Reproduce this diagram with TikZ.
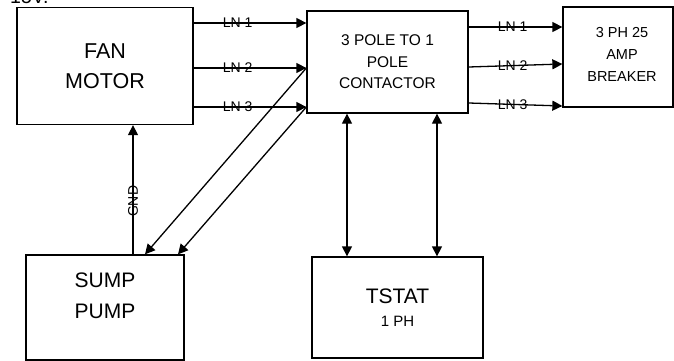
\documentclass[tikz,border=0pt]{standalone}
\usepackage{fontspec}
\setmainfont{Liberation Sans}
\usetikzlibrary{arrows.meta,calc,positioning}

\tikzset{
  unit/.style={draw, line width=1.3pt, align=center, inner sep=0pt},
  wire/.style={line width=1.3pt, -{Triangle[length=10pt,width=10pt]}},
  dwire/.style={line width=1.3pt, {Triangle[length=10pt,width=10pt]}-{Triangle[length=10pt,width=10pt]}},
  lnlabel/.style={font=\fontsize{14}{16}\selectfont, inner sep=0pt},
}

\begin{document}
\begin{tikzpicture}[x=1pt, y=-1pt]
  \useasboundingbox (0,0) rectangle (674,361);

  % cut-off supply note at the top
  \node[anchor=base west, inner sep=0pt, font=\fontsize{19.5}{22}\selectfont] (supply) at (10,4) {15V.};

  % units
  \node[unit, minimum width=176pt, minimum height=117pt, font=\fontsize{21.5}{30}\selectfont] (fan) at (105,66) {FAN\\MOTOR};
  \node[unit, minimum width=161pt, minimum height=102pt, font=\fontsize{15.5}{21.5}\selectfont] (con) at (387.5,62) {3 POLE TO 1\\POLE\\CONTACTOR};
  \node[unit, minimum width=110pt, minimum height=100pt] (brk) at (618,57) {};
  \node[align=center, inner sep=0pt, font=\fontsize{14.5}{22}\selectfont] (brktext) at (622,54) {3 PH 25\\AMP\\BREAKER};
  \node[unit, minimum width=158pt, minimum height=105pt] (sump) at (105,307.5) {};
  \node[align=center, inner sep=0pt, font=\fontsize{21}{31}\selectfont] (sumptext) at (105,296) {SUMP\\PUMP};
  \node[unit, minimum width=171pt, minimum height=101pt, font=\fontsize{21}{23}\selectfont] (tstat) at (397.5,307.5) {TSTAT\\{\fontsize{15}{23}\selectfont 1 PH}};

  % three lines from the motor to the contactor
  \foreach \yy/\ln in {23/1, 68/2, 107/3}
    \draw[wire] (fan.east |- 0,\yy) -- node[lnlabel, pos=0.39] {LN \ln} (con.west |- 0,\yy);

  % three lines from the contactor to the breaker
  \foreach \ya/\yb/\ln in {27/27/1, 67/64/2, 103/106/3}
    \draw[wire] (con.east |- 0,\ya) -- node[lnlabel, pos=0.47] {LN \ln} (brk.west |- 0,\yb);

  % feed to the sump pump
  \draw[wire] (con.west |- 0,68) -- (sump.north -| 145,0);
  \draw[wire] (con.west |- 0,107) -- (sump.north -| 178,0);

  % ground
  \draw[wire] (sump.north -| 133,0) -- node[lnlabel, rotate=90, pos=0.41] {GND} (fan.south -| 133,0);

  % thermostat
  \draw[dwire] (con.south -| 347,0) -- (tstat.north -| 347,0);
  \draw[dwire] (con.south -| 437,0) -- (tstat.north -| 437,0);
\end{tikzpicture}
\end{document}
